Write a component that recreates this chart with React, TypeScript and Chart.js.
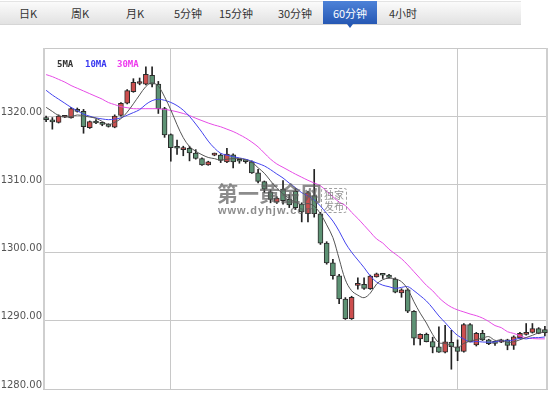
import React, { useEffect, useRef } from "react";
import { Chart, registerables } from "chart.js";

Chart.register(...registerables);

// ---- data ----
const tabs = ["日K", "周K", "月K", "5分钟", "15分钟", "30分钟", "60分钟", "4小时"];
const selectedTab = "60分钟";

const opens = [
  1319.6, 1319.45, 1319.1, 1319.85, 1319.75, 1321.0, 1320.7, 1318.3, 1319.2, 1318.85,
  1318.75, 1318.4, 1320.1, 1321.9, 1323.6, 1324.8, 1324.7, 1326.0, 1324.7, 1321.1,
  1317.3, 1315.4, 1315.1, 1315.3, 1314.6, 1313.8, 1312.85, 1314.3, 1314.3, 1313.3,
  1314.35, 1313.45, 1313.4, 1313.3, 1311.7, 1310.4, 1308.9, 1307.4, 1309.3, 1307.8,
  1309.0, 1307.1, 1305.7, 1308.35, 1305.7, 1301.4, 1298.5, 1296.6, 1293.2, 1290.3,
  1295.2, 1295.35, 1294.7, 1296.45, 1296.72, 1296.7, 1296.1, 1294.1, 1294.55, 1291.4,
  1287.35, 1288.0, 1286.95, 1286.2, 1285.4, 1286.85, 1286.2, 1285.5, 1289.45, 1286.45,
  1288.15, 1287.2, 1286.75, 1286.85, 1287.2, 1286.4, 1287.5, 1288.0, 1288.3, 1288.85,
  1288.7,
];
const closes = [
  1319.5, 1319.15, 1320.0, 1319.95, 1321.1, 1320.7, 1318.45, 1319.2, 1319.0, 1318.8,
  1318.5, 1320.0, 1321.9, 1323.75, 1324.95, 1325.0, 1326.15, 1324.7, 1321.1, 1317.25,
  1315.4, 1315.3, 1315.2, 1314.6, 1313.8, 1312.85, 1313.3, 1314.35, 1313.5, 1314.45,
  1313.3, 1313.4, 1313.35, 1311.7, 1310.45, 1309.3, 1307.8, 1308.0, 1307.6, 1307.0,
  1306.6, 1305.95, 1308.8, 1305.7, 1301.4, 1298.5, 1296.6, 1293.2, 1290.3, 1293.45,
  1295.25, 1294.75, 1296.55, 1296.9, 1296.68, 1296.35, 1294.2, 1294.55, 1291.4, 1287.45,
  1288.0, 1286.95, 1286.15, 1285.4, 1286.9, 1286.2, 1285.5, 1289.45, 1286.95, 1288.15,
  1287.2, 1286.65, 1286.7, 1287.2, 1286.4, 1287.65, 1288.15, 1288.3, 1288.85, 1288.15,
  1288.25,
];
const highs = [
  1320.0, 1319.8, 1320.2, 1320.1, 1321.3, 1321.2, 1321.0, 1319.3, 1319.5, 1319.1,
  1318.9, 1320.2, 1322.0, 1323.9, 1325.5, 1325.6, 1327.25, 1327.25, 1325.1, 1321.3,
  1317.4, 1316.5, 1315.6, 1315.6, 1315.1, 1313.9, 1313.4, 1314.6, 1314.5, 1315.3,
  1314.5, 1313.5, 1313.5, 1313.45, 1312.2, 1310.5, 1309.2, 1308.2, 1310.55, 1308.5,
  1309.4, 1307.3, 1309.0, 1312.2, 1305.9, 1301.6, 1299.0, 1296.8, 1293.4, 1293.6,
  1296.3, 1296.3, 1296.7, 1297.0, 1296.75, 1296.8, 1296.3, 1294.7, 1294.7, 1291.5,
  1288.1, 1288.2, 1287.6, 1289.1, 1289.35, 1288.6, 1287.2, 1289.6, 1289.6, 1288.3,
  1288.6, 1287.3, 1287.0, 1287.3, 1287.3, 1287.8, 1288.3, 1289.6, 1289.6, 1289.0,
  1289.2,
];
const lows = [
  1319.2, 1318.1, 1319.0, 1319.8, 1319.7, 1320.6, 1317.5, 1318.2, 1318.9, 1318.6,
  1318.4, 1318.3, 1320.0, 1321.8, 1323.5, 1324.6, 1324.6, 1324.3, 1320.4, 1316.9,
  1313.4, 1314.4, 1314.2, 1313.45, 1313.7, 1312.8, 1312.8, 1314.2, 1313.2, 1313.2,
  1312.4, 1313.1, 1313.1, 1311.6, 1310.2, 1308.8, 1307.3, 1307.2, 1307.1, 1306.6,
  1306.3, 1304.5, 1304.5, 1305.2, 1301.2, 1298.3, 1296.1, 1292.5, 1290.2, 1290.2,
  1294.65, 1294.6, 1294.6, 1296.4, 1296.2, 1296.3, 1294.1, 1293.45, 1291.2, 1286.45,
  1286.45, 1286.9, 1285.3, 1285.35, 1285.3, 1282.9, 1284.15, 1285.4, 1286.9, 1286.3,
  1287.1, 1286.5, 1286.4, 1286.8, 1285.75, 1285.8, 1287.4, 1287.9, 1288.2, 1288.1,
  1287.8,
];
const ma5 = [
  1321.3, 1320.7, 1320.1, 1319.9, 1319.94, 1320.18, 1320.04, 1319.88, 1319.69, 1319.23,
  1318.79, 1319.1, 1319.64, 1320.59, 1321.82, 1323.12, 1324.35, 1324.91, 1324.38, 1322.84,
  1320.92, 1318.75, 1316.85, 1315.55, 1314.86, 1314.35, 1313.95, 1313.78, 1313.56, 1313.69,
  1313.78, 1313.8, 1313.6, 1313.24, 1312.44, 1311.64, 1310.52, 1309.45, 1308.63, 1307.94,
  1307.4, 1307.03, 1307.19, 1306.81, 1305.69, 1304.07, 1302.2, 1299.08, 1296.0, 1294.41,
  1293.76, 1293.39, 1294.06, 1295.38, 1296.03, 1296.25, 1296.14, 1295.74, 1294.64, 1292.79,
  1291.12, 1289.67, 1287.99, 1286.79, 1286.68, 1286.32, 1286.03, 1286.69, 1287.0, 1287.25,
  1287.45, 1287.68, 1287.13, 1287.18, 1286.83, 1286.92, 1287.22, 1287.54, 1287.87, 1288.22,
  1288.34,
];
const ma10 = [
  1323.8, 1323.1, 1322.5, 1321.9, 1321.3, 1320.8, 1320.3, 1320.0, 1319.75, 1319.6,
  1319.49, 1319.57, 1319.76, 1320.14, 1320.53, 1320.96, 1321.73, 1322.28, 1322.49, 1322.33,
  1322.02, 1321.55, 1320.88, 1319.97, 1318.85, 1317.64, 1316.35, 1315.32, 1314.56, 1314.28,
  1314.07, 1313.88, 1313.69, 1313.4, 1313.07, 1312.71, 1312.16, 1311.53, 1310.94, 1310.19,
  1309.52, 1308.78, 1308.32, 1307.72, 1306.82, 1305.74, 1304.62, 1303.14, 1301.41, 1300.05,
  1298.92, 1297.8, 1296.57, 1295.69, 1295.22, 1295.0, 1294.76, 1294.9, 1295.01, 1294.41,
  1293.68, 1292.9, 1291.86, 1290.71, 1289.74, 1288.72, 1287.85, 1287.34, 1286.9, 1286.97,
  1286.89, 1286.86, 1286.91, 1287.09, 1287.04, 1287.19, 1287.45, 1287.34, 1287.53, 1287.53,
  1287.63,
];
const ma30 = [
  1326.1, 1325.8, 1325.4, 1325.0, 1324.5, 1324.1, 1323.7, 1323.3, 1322.9, 1322.5,
  1322.0, 1321.7, 1321.4, 1321.25, 1321.1, 1321.1, 1321.1, 1321.1, 1321.1, 1321.0,
  1320.85, 1320.65, 1320.4, 1320.1, 1319.7, 1319.35, 1319.0, 1318.7, 1318.45, 1318.1,
  1317.75, 1317.3, 1316.8, 1316.2, 1315.5, 1314.6, 1313.7, 1313.0, 1312.5, 1312.0,
  1311.5, 1311.05, 1310.6, 1310.2, 1309.8, 1309.0, 1308.2, 1307.4, 1306.9, 1305.9,
  1305.0, 1304.0, 1303.0, 1302.0, 1301.4, 1300.5, 1299.8, 1299.1, 1298.2, 1297.2,
  1296.2, 1295.2, 1294.4, 1293.4, 1292.6, 1292.0, 1291.6, 1291.3, 1291.0, 1290.75,
  1290.4, 1289.9, 1289.3, 1289.0, 1288.4, 1288.15, 1287.8, 1287.5, 1287.4, 1287.35,
  1287.35,
];
const yTicks = [1280, 1290, 1300, 1310, 1320, 1330];
const separatorIndexes = [20, 66];

// ---- styles ----
const UP = "#cc4e4e";
const DOWN = "#5d9274";
const OUTLINE = "#2b2b2b";
const GRID = "#c8c8c8";

const tabCenters = [28, 80, 135, 188, 236, 295, 350, 403];

export default function App() {
  const ref = useRef<HTMLCanvasElement | null>(null);

  useEffect(() => {
    const canvas = ref.current;
    if (!canvas) return;
    const labels = closes.map((_, i) => String(i + 1));
    const bodies = opens.map((o, i) => [Math.min(o, closes[i]), Math.max(o, closes[i])]);
    const wicks = lows.map((l, i) => [l, highs[i]]);
    const bodyColors = opens.map((o, i) => (closes[i] >= o ? UP : DOWN));

    const framePlugin = {
      id: "frame",
      beforeDatasetsDraw(chart: any) {
        const { ctx, chartArea } = chart;
        ctx.save();
        ctx.strokeStyle = "#cfcfcf";
        ctx.lineWidth = 2;
        ctx.beginPath();
        ctx.moveTo(chartArea.left + 1, chartArea.top);
        ctx.lineTo(chartArea.left + 1, chartArea.bottom);
        ctx.moveTo(chartArea.right - 1, chartArea.top);
        ctx.lineTo(chartArea.right - 1, chartArea.bottom);
        ctx.stroke();
        ctx.restore();
      },
    };

    const chart = new Chart(canvas, {
      type: "bar",
      data: {
        labels,
        datasets: [
          {
            type: "line",
            label: "5MA",
            data: ma5,
            borderColor: "#555555",
            borderWidth: 1,
            pointRadius: 0,
            tension: 0.35,
            order: 0,
          } as any,
          {
            type: "line",
            label: "10MA",
            data: ma10,
            borderColor: "#4444ee",
            borderWidth: 1,
            pointRadius: 0,
            tension: 0.35,
            order: 0,
          } as any,
          {
            type: "line",
            label: "30MA",
            data: ma30,
            borderColor: "#e64ce6",
            borderWidth: 1,
            pointRadius: 0,
            tension: 0.35,
            order: 0,
          } as any,
          {
            type: "bar",
            label: "body",
            data: bodies,
            backgroundColor: bodyColors,
            borderColor: OUTLINE,
            borderWidth: 1,
            borderSkipped: false,
            barThickness: 5,
            minBarLength: 2,
            grouped: false,
            order: 1,
          } as any,
          {
            type: "bar",
            label: "wick",
            data: wicks,
            backgroundColor: "#222222",
            borderWidth: 0,
            barThickness: 1,
            grouped: false,
            order: 2,
          } as any,
        ],
      },
      options: {
        responsive: false,
        animation: false,
        devicePixelRatio: 1,
        layout: { padding: { top: 48, right: 2, bottom: 1, left: 0 } },
        plugins: {
          legend: { display: false },
          tooltip: { enabled: false },
        },
        scales: {
          x: {
            type: "category",
            offset: true,
            grid: {
              offset: false,
              drawTicks: false,
              lineWidth: 1,
              color: (c: any) => (separatorIndexes.includes(c.index) ? GRID : "rgba(0,0,0,0)"),
            },
            border: { display: false },
            ticks: { display: false, autoSkip: false },
            afterFit: (s: any) => {
              s.height = 0;
            },
          },
          y: {
            min: yTicks[0],
            max: yTicks[yTicks.length - 1],
            afterBuildTicks: (s: any) => {
              s.ticks = yTicks.map((v) => ({ value: v }));
            },
            ticks: {
              color: "#555555",
              font: { family: "DejaVu Sans", size: 10 },
              padding: 1,
              labelOffset: -4,
              callback: (v: any) => (Number(v) === yTicks[yTicks.length - 1] ? "" : Number(v).toFixed(2)),
            },
            grid: { color: GRID, drawTicks: false, lineWidth: 1 },
            border: { display: false },
            afterFit: (s: any) => {
              s.width = 43;
            },
          },
        },
      } as any,
      plugins: [framePlugin],
    });
    return () => chart.destroy();
  }, []);

  return (
    <div
      style={{
        position: "fixed",
        left: 0,
        top: 0,
        width: 550,
        height: 396,
        background: "#ffffff",
        overflow: "hidden",
        fontFamily: "'Noto Sans CJK SC', 'DejaVu Sans', sans-serif",
      }}
    >
      <canvas ref={ref} width={550} height={396} style={{ position: "absolute", left: 0, top: 0, width: 550, height: 396 }} />

      {/* tab bar */}
      <div
        style={{
          position: "absolute",
          left: 0,
          top: 1,
          width: 521,
          height: 22,
          background: "linear-gradient(#fbfbfb, #e2e2e2)",
          borderTop: "1px solid #e4e4e4",
          borderBottom: "1px solid #d6d6d6",
        }}
      />
      <div
        style={{
          position: "absolute",
          left: 323,
          top: 1,
          width: 54,
          height: 23,
          background: "linear-gradient(#4d82d8, #2658b4)",
        }}
      />
      <div
        style={{
          position: "absolute",
          left: 347,
          top: 24,
          width: 0,
          height: 0,
          borderLeft: "3.5px solid transparent",
          borderRight: "3.5px solid transparent",
          borderTop: "4px solid #2658b4",
        }}
      />
      {tabs.map((t, i) => (
        <div
          key={t}
          style={{
            position: "absolute",
            left: tabCenters[i],
            top: 5,
            transform: "translateX(-50%)",
            fontSize: 11,
            lineHeight: "16px",
            whiteSpace: "nowrap",
            color: t === selectedTab ? "#ffffff" : "#333333",
          }}
        >
          {t}
        </div>
      ))}

      {/* MA legend */}
      {[
        { t: "5MA", x: 57, c: "#333333" },
        { t: "10MA", x: 85, c: "#3a3af0" },
        { t: "30MA", x: 117, c: "#ee3cee" },
      ].map((l) => (
        <div
          key={l.t}
          style={{
            position: "absolute",
            left: l.x,
            top: 59,
            fontFamily: "'DejaVu Sans Mono', monospace",
            fontWeight: "bold",
            fontSize: 9,
            lineHeight: "10px",
            color: l.c,
            whiteSpace: "nowrap",
          }}
        >
          {l.t}
        </div>
      ))}

      {/* watermark */}
      <div
        style={{
          position: "absolute",
          left: 217,
          top: 180,
          fontSize: 21,
          fontWeight: "bold",
          lineHeight: "25px",
          color: "rgba(95,95,95,0.72)",
          whiteSpace: "nowrap",
          pointerEvents: "none",
        }}
      >
        第一黄金网
      </div>
      <div
        style={{
          position: "absolute",
          left: 218,
          top: 204,
          fontFamily: "'Liberation Sans', sans-serif",
          fontSize: 11,
          fontWeight: "bold",
          letterSpacing: 1,
          lineHeight: "12px",
          color: "rgba(95,95,95,0.72)",
          whiteSpace: "nowrap",
          pointerEvents: "none",
        }}
      >
        www.dyhjw.com
      </div>
      <div
        style={{
          position: "absolute",
          left: 321,
          top: 188,
          width: 24,
          height: 23,
          border: "1px dashed rgba(110,110,110,0.65)",
          borderRadius: 3,
          fontSize: 10,
          lineHeight: "11px",
          textAlign: "center",
          color: "rgba(100,100,100,0.7)",
          pointerEvents: "none",
        }}
      >
        独家
        <br />
        发布
      </div>
    </div>
  );
}
